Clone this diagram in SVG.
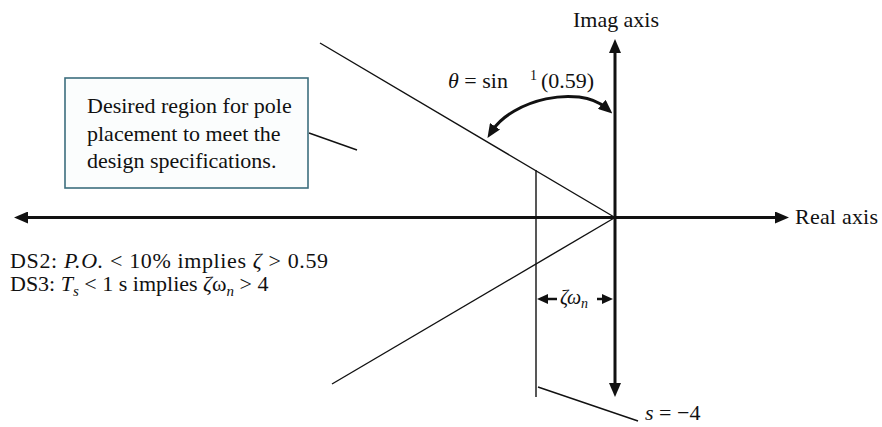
<svg xmlns="http://www.w3.org/2000/svg" width="882" height="427" viewBox="0 0 882 427">
<style>
text { font-family: "Liberation Serif", "Times New Roman", serif; fill: #111; font-size: 22px; }
.it { font-style: italic; }
.axis { stroke: #111; stroke-width: 3; fill: none; }
.curve { stroke: #111; stroke-width: 3; fill: none; }
.dim { stroke: #111; stroke-width: 2.5; fill: none; }
.thin { stroke: #111; stroke-width: 1.4; fill: none; }
.box { fill: #fbfdfd; stroke: #3d6e7e; stroke-width: 1.6; }
</style>
<defs>
<marker id="ah" viewBox="0 0 10 10" markerUnits="userSpaceOnUse" markerWidth="14" markerHeight="12" refX="4" refY="5" orient="auto-start-reverse" preserveAspectRatio="none">
<path d="M0,0 L10,5 L0,10 z" fill="#111"/>
</marker>
<marker id="as" viewBox="0 0 10 10" markerUnits="userSpaceOnUse" markerWidth="11" markerHeight="10" refX="4" refY="5" orient="auto-start-reverse" preserveAspectRatio="none">
<path d="M0,0 L10,5 L0,10 z" fill="#111"/>
</marker>
</defs>
<rect width="882" height="427" fill="#fff"/>

<g id="connectors">
<line class="thin" x1="320" y1="43" x2="615" y2="217.5"/>
<line class="thin" x1="615" y1="217.5" x2="332" y2="384"/>
<line class="thin" x1="536" y1="170" x2="536" y2="397"/>
<line class="thin" x1="309" y1="133" x2="357" y2="150"/>
<line class="thin" x1="538" y1="387" x2="638" y2="421"/>
<path class="curve" d="M492,131 C512,100 578,84 606,108" marker-start="url(#ah)" marker-end="url(#ah)"/>
<path class="dim" d="M557,299 L543.6,299" marker-end="url(#as)"/>
<path class="dim" d="M597,299 L606.4,299" marker-end="url(#as)"/>
</g>

<g id="real-axis">
<line class="axis" x1="22.4" y1="217.5" x2="780.6" y2="217.5" marker-start="url(#ah)" marker-end="url(#ah)"/>
<text x="795" y="224" textLength="83">Real axis</text>
</g>

<g id="imag-axis">
<line class="axis" x1="615" y1="47.4" x2="615" y2="388.6" marker-start="url(#ah)" marker-end="url(#ah)"/>
<text x="616" y="27" text-anchor="middle" textLength="86">Imag axis</text>
</g>

<g id="theta-label">
<text x="448" y="88"><tspan class="it">θ</tspan> = sin</text>
<text x="530" y="80" style="font-size:14px">1</text>
<text x="541" y="88">(0.59)</text>
</g>

<g id="region-box">
<rect class="box" x="65" y="78" width="243" height="110"/>
<text x="87" y="113">Desired region for pole</text>
<text x="87" y="141">placement to meet the</text>
<text x="87" y="168">design specifications.</text>
</g>

<g id="specs">
<text x="10" y="268" textLength="318">DS2: <tspan class="it">P.O.</tspan> &lt; 10% implies <tspan class="it">ζ</tspan> &gt; 0.59</text>
<text x="10" y="291">DS3: <tspan class="it">T</tspan><tspan class="it" style="font-size:15px" dy="5">s</tspan><tspan dy="-5"> &lt; 1 s implies </tspan><tspan class="it">ζ</tspan>ω<tspan class="it" style="font-size:15px" dy="5">n</tspan><tspan dy="-5"> &gt; 4</tspan></text>
</g>

<g id="zeta-omega-label">
<text x="560" y="304" class="it" style="font-size:20px">ζω<tspan style="font-size:14px" dy="4">n</tspan></text>
</g>

<g id="s-label">
<text x="645" y="420"><tspan class="it">s</tspan> = −4</text>
</g>
</svg>
